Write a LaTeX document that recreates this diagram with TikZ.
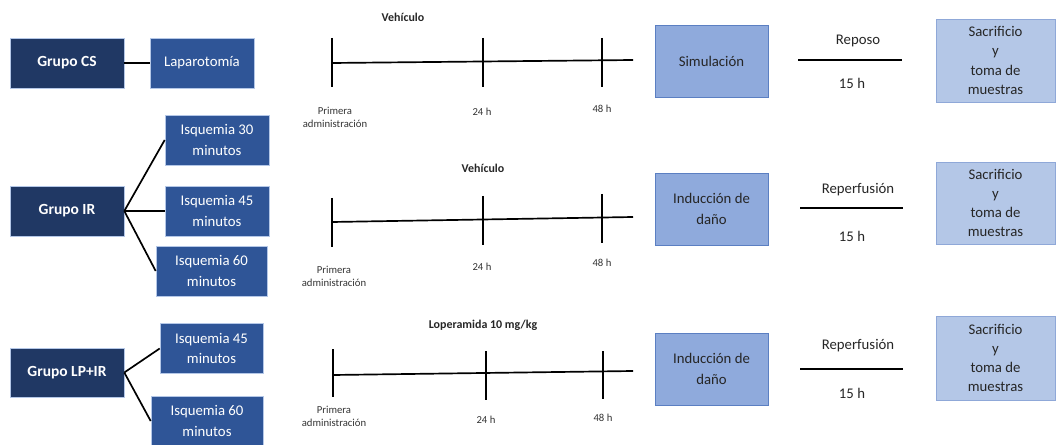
\documentclass[tikz,border=0pt]{standalone}
\usepackage{fontspec}
\setmainfont{Carlito}
\usepackage{tikz}
\usetikzlibrary{positioning}
\definecolor{grpnavy}{HTML}{203864}
\definecolor{isqblue}{HTML}{2F5597}
\definecolor{simblue}{HTML}{8FAADC}
\definecolor{simedge}{HTML}{5B7FC2}
\definecolor{sacblue}{HTML}{B4C7E7}
\definecolor{sacedge}{HTML}{8FA8D8}
\begin{document}
\begin{tikzpicture}[x=0.025cm,y=-0.025cm,
  grp/.style={rectangle,draw=sacblue,fill=grpnavy,text=white,minimum width=2.85cm,
              minimum height=1.25cm,inner sep=1pt,font=\fontsize{11}{14}\selectfont\bfseries},
  isq/.style={rectangle,draw=sacblue,fill=isqblue,text=white,minimum width=2.6cm,
              minimum height=1.25cm,inner sep=1pt,align=center,
              font=\fontsize{10.5}{14.8}\selectfont},
  step1/.style={rectangle,draw=simedge,fill=simblue,text=black!85,minimum width=2.825cm,
                minimum height=1.8cm,inner sep=1pt,align=center,
                font=\fontsize{10.5}{14.5}\selectfont},
  sac/.style={rectangle,draw=sacedge,fill=sacblue,text=black!85,minimum width=2.975cm,
              inner sep=1pt,align=center,font=\fontsize{10.5}{13.6}\selectfont},
  tl/.style={line width=1.2pt,black},
  lnk/.style={line width=1.2pt,black},
  ttl/.style={font=\fontsize{8.5}{10}\selectfont\bfseries,text=black!85},
  tick/.style={font=\fontsize{7.6}{9.4}\selectfont,text=black!80,align=center,inner sep=0pt},
  rest/.style={font=\fontsize{10.5}{13}\selectfont,text=black!85,inner sep=0pt}]

\useasboundingbox (0,0) rectangle (1056,445);

\node[grp] (gcs) at (67,63)    {Grupo CS};
\node[grp] (gir) at (67,211)   {Grupo IR};
\node[grp,minimum height=1.225cm] (glp) at (67,372.5) {Grupo LP+IR};

\node[isq] (lap)    at (202,63)    {Laparotomía};
\node[isq] (isq30)  at (217,140)   {Isquemia 30\\minutos};
\node[isq] (isq45)  at (217,211)   {Isquemia 45\\minutos};
\node[isq,minimum width=2.775cm] (isq60)  at (211.5,271) {Isquemia 60\\minutos};
\node[isq,minimum width=2.575cm] (lisq45) at (211.5,348.5) {Isquemia 45\\minutos};
\node[isq,minimum width=2.8cm]   (lisq60) at (207,421) {Isquemia 60\\minutos};

\draw[lnk] (gcs.east) -- (lap.west);
\draw[lnk] (gir.east) -- (isq30.west);
\draw[lnk] (gir.east) -- (isq45.west);
\draw[lnk] (gir.east) -- (isq60.west);
\draw[lnk] (glp.east) -- (lisq45.west);
\draw[lnk] (glp.east) -- (lisq60.west);

\node[ttl] (veh1) at (403,17)  {Vehículo};
\node[ttl] (veh2) at (483,168) {Vehículo};
\node[ttl] (lop3) at (483,325) {Loperamida 10 mg/kg};

\coordinate (a1) at (332,63);  \coordinate (b1) at (483,62);  \coordinate (c1) at (602,61);  \coordinate (e1) at (633,60);
\coordinate (a2) at (332,222); \coordinate (b2) at (483,220); \coordinate (c2) at (602,219); \coordinate (e2) at (633,217);
\coordinate (a3) at (333,375); \coordinate (b3) at (486,374); \coordinate (c3) at (603,372); \coordinate (e3) at (633,371);

\draw[tl] (a1) -- (e1);
\draw[tl] (a1) ++(0,-25) -- ++(0,49);
\draw[tl] (b1) ++(0,-24) -- ++(0,49);
\draw[tl] (c1) ++(0,-23) -- ++(0,49);
\draw[tl] (a2) -- (e2);
\draw[tl] (a2) ++(0,-24) -- ++(0,49);
\draw[tl] (b2) ++(0,-24) -- ++(0,49);
\draw[tl] (c2) ++(0,-25) -- ++(0,49);
\draw[tl] (a3) -- (e3);
\draw[tl] (a3) ++(0,-26) -- ++(0,48);
\draw[tl] (b3) ++(0,-23) -- ++(0,49);
\draw[tl] (c3) ++(0,-21) -- ++(0,48);

\node[tick] (p1)  at (335,117) {Primera\\administración};
\node[tick] (h24a) at (482,112) {24 h};
\node[tick] (h48a) at (602,109) {48 h};
\node[tick] (p2)  at (334,276) {Primera\\administración};
\node[tick] (h24b) at (482,267) {24 h};
\node[tick] (h48b) at (602,263) {48 h};
\node[tick] (p3)  at (334,416) {Primera\\administración};
\node[tick] (h24c) at (486,420) {24 h};
\node[tick] (h48c) at (603,418) {48 h};

\node[step1] (sim1) at (711.5,61)  {Simulación};
\node[step1] (ind2) at (711.5,209) {Inducción de\\daño};
\node[step1] (ind3) at (711.5,369) {Inducción de\\daño};

\node[sac,minimum height=2.075cm] (sac1) at (995.5,60.5) {Sacrificio\\y\\toma de\\muestras};
\node[sac,minimum height=2.05cm]  (sac2) at (995.5,203)  {Sacrificio\\y\\toma de\\muestras};
\node[sac,minimum height=2.1cm]   (sac3) at (995.5,358)  {Sacrificio\\y\\toma de\\muestras};

\coordinate (r1a) at (798,60);  \coordinate (r1b) at (902,60);
\coordinate (r2a) at (800,208); \coordinate (r2b) at (903,208);
\coordinate (r3a) at (800,369); \coordinate (r3b) at (903,369);
\draw[tl] (r1a) -- (r1b);
\draw[tl] (r2a) -- (r2b);
\draw[tl] (r3a) -- (r3b);

\node[rest] (rep1) at (858,41)  {Reposo};
\node[rest] (hr1)  at (852,83)  {15 h};
\node[rest] (rep2) at (858,190) {Reperfusión};
\node[rest] (hr2)  at (852,236) {15 h};
\node[rest] (rep3) at (858,346) {Reperfusión};
\node[rest] (hr3)  at (852,393) {15 h};
\end{tikzpicture}
\end{document}
